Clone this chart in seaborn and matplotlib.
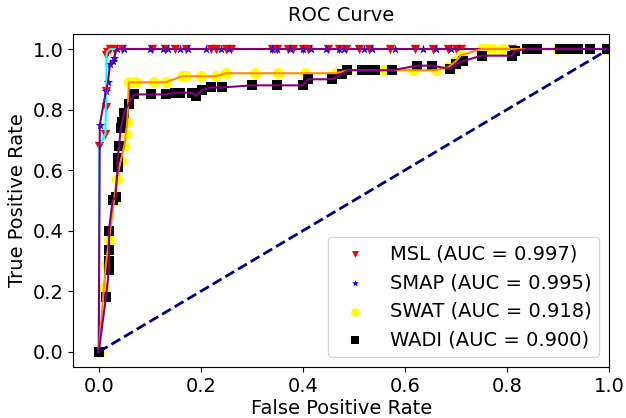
# %% IMPORTS
import matplotlib

matplotlib.use("Agg")
import matplotlib.pyplot as plt
import numpy as np
import pandas as pd
import seaborn as sns

# %% DATA
# MSL
msl_fpr = [0.0, 0.001, 0.013, 0.014, 0.015, 0.015, 0.016, 0.022, 0.03, 0.045,
           0.105, 0.13, 0.15, 0.17, 0.22, 0.23, 0.25, 0.26, 0.34, 0.35, 0.37,
           0.38, 0.40, 0.41, 0.45, 0.47, 0.485, 0.51, 0.53, 0.57, 0.62, 0.655,
           0.685, 0.70, 0.71, 0.81, 1.0]
msl_tpr = [0.0, 0.68, 0.72, 0.81, 0.86, 0.98, 0.99, 1.0, 1.0, 1.0,
           1.0, 1.0, 1.0, 1.0, 1.0, 1.0, 1.0, 1.0, 1.0, 1.0, 1.0,
           1.0, 1.0, 1.0, 1.0, 1.0, 1.0, 1.0, 1.0, 1.0, 1.0, 1.0,
           1.0, 1.0, 1.0, 1.0, 1.0]

# SMAP
smap_fpr = [0.0, 0.002, 0.014, 0.018, 0.022, 0.027, 0.03, 0.035, 0.05, 0.10,
            0.125, 0.135, 0.16, 0.175, 0.21, 0.24, 0.255, 0.34, 0.35, 0.375,
            0.40, 0.415, 0.445, 0.47, 0.48, 0.52, 0.535, 0.58, 0.635, 0.66,
            0.69, 0.705, 0.75, 1.0]
smap_tpr = [0.0, 0.75, 0.86, 0.89, 0.95, 0.96, 0.97, 1.0, 1.0, 1.0,
            1.0, 1.0, 1.0, 1.0, 1.0, 1.0, 1.0, 1.0, 1.0, 1.0,
            1.0, 1.0, 1.0, 1.0, 1.0, 1.0, 1.0, 1.0, 1.0, 1.0,
            1.0, 1.0, 1.0, 1.0]

# SWAT
swat_fpr = [0.0, 0.01, 0.014, 0.02, 0.03, 0.035, 0.043, 0.05, 0.053, 0.056,
            0.059, 0.072, 0.108, 0.131, 0.164, 0.17, 0.2, 0.229, 0.249, 0.307,
            0.352, 0.405, 0.464, 0.487, 0.558, 0.616, 0.66, 0.685, 0.70, 0.71,
            0.75, 0.76, 0.77, 0.79, 0.90, 1.0]
swat_tpr = [0.0, 0.21, 0.29, 0.37, 0.50, 0.57, 0.63, 0.68, 0.72, 0.76,
            0.89, 0.89, 0.89, 0.89, 0.91, 0.91, 0.91, 0.91, 0.92, 0.92,
            0.92, 0.92, 0.92, 0.93, 0.93, 0.93, 0.93, 0.94, 0.96, 0.98,
            1.0, 1.0, 1.0, 1.0, 1.0, 1.0]

# WADI
wadi_fpr = [0.0, 0.014, 0.02, 0.02, 0.02, 0.02, 0.027, 0.033, 0.037, 0.037,
            0.04, 0.043, 0.046, 0.05, 0.059, 0.069, 0.102, 0.131, 0.15, 0.16,
            0.183, 0.19, 0.203, 0.219, 0.242, 0.30, 0.35, 0.40, 0.41, 0.457,
            0.477, 0.487, 0.516, 0.53, 0.542, 0.575, 0.624, 0.653, 0.689, 0.70,
            0.714, 0.75, 0.81, 0.816, 0.839, 0.858, 0.904, 0.92, 0.94, 0.963,
            0.995]
wadi_tpr = [0.0, 0.18, 0.27, 0.30, 0.335, 0.40, 0.50, 0.51, 0.61, 0.64,
            0.68, 0.74, 0.76, 0.79, 0.82, 0.85, 0.85, 0.85, 0.855, 0.856,
            0.855, 0.845, 0.865, 0.873, 0.873, 0.88, 0.88, 0.88, 0.90, 0.90,
            0.918, 0.93, 0.93, 0.93, 0.93, 0.93, 0.945, 0.945, 0.934, 0.95,
            0.96, 0.978, 0.978, 0.994, 1.0, 1.0, 1.0, 1.0, 1.0, 1.0,
            1.0]

labels = ["MSL (AUC = 0.997)", "SMAP (AUC = 0.995)",
          "SWAT (AUC = 0.918)", "WADI (AUC = 0.900)"]

# %% PLOT
fig = plt.figure(figsize=(6.26, 4.18), dpi=100)
ax = fig.add_axes([0.117, 0.122, 0.856, 0.797])

# (fpr, tpr, marker colour, marker, marker size, line colour)
curves = [
    (msl_fpr, msl_tpr, "red", "v", 45, "cyan"),
    (smap_fpr, smap_tpr, "blue", "*", 50, "purple"),
    (swat_fpr, swat_tpr, "yellow", "o", 65, "darkorange"),
    (wadi_fpr, wadi_tpr, "black", "s", 50, "purple"),
]

for (fpr, tpr, mcolor, marker, size, lcolor), label in zip(curves, labels):
    df = pd.DataFrame({"fpr": fpr, "tpr": tpr})
    sns.scatterplot(data=df, x="fpr", y="tpr", color=mcolor, marker=marker,
                    s=size, linewidth=0, label=label, ax=ax)
    sns.lineplot(data=df, x="fpr", y="tpr", color=lcolor, sort=False,
                 estimator=None, linewidth=1.5, ax=ax)

# Chance line
ax.plot([0, 1], [0, 1], color="navy", linestyle="--", linewidth=2)

ax.set_xlim(-0.05, 1.0)
ax.set_ylim(-0.05, 1.05)
ax.set_xlabel("False Positive Rate", fontsize=14, labelpad=2)
ax.set_ylabel("True Positive Rate", fontsize=14)
ax.set_title("ROC Curve", fontsize=14, pad=9)
ax.tick_params(labelsize=14)
ax.legend(loc="lower right", fontsize=14, markerscale=0.75)

fig.savefig("out.png", dpi=100)
